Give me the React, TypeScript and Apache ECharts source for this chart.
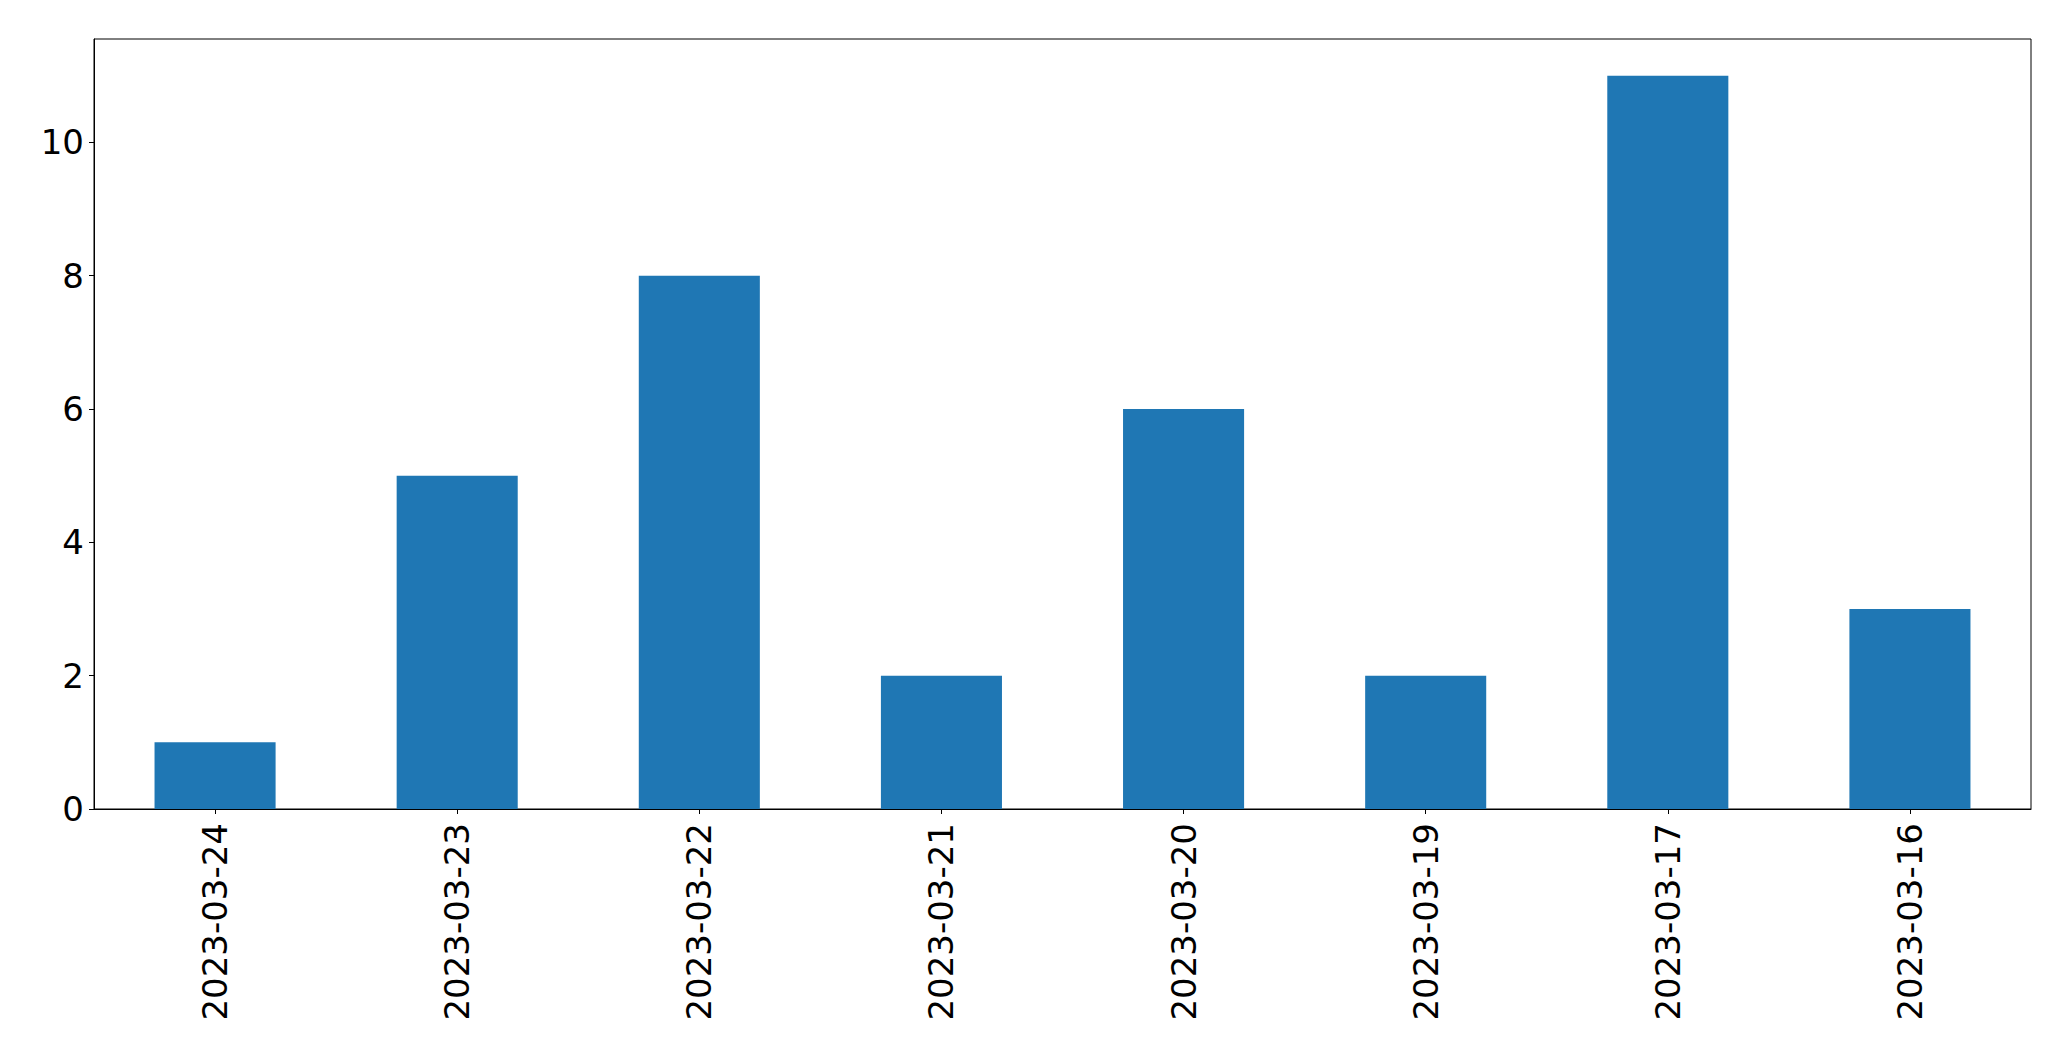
import React, { useEffect, useRef } from "react";
import * as echarts from "echarts";

const categories = [
  "2023-03-24",
  "2023-03-23",
  "2023-03-22",
  "2023-03-21",
  "2023-03-20",
  "2023-03-19",
  "2023-03-17",
  "2023-03-16",
];
const values = [1, 5, 8, 2, 6, 2, 11, 3];
const yTicks = [0, 2, 4, 6, 8, 10];

export default function App() {
  const ref = useRef<HTMLDivElement>(null);
  useEffect(() => {
    document.body.style.margin = "0";
    const chart = echarts.init(ref.current!, null, { renderer: "svg" });
    chart.setOption({
      animation: false,
      backgroundColor: "#fff",
      textStyle: { fontFamily: "DejaVu Sans" },
      grid: {
        left: 94,
        right: 40,
        top: 39,
        bottom: 252,
        show: true,
        borderColor: "#000",
        borderWidth: 1,
        containLabel: false,
      },
      xAxis: {
        type: "category",
        data: categories,
        axisLine: { show: true, lineStyle: { color: "#000", width: 1 } },
        axisTick: {
          show: true,
          alignWithLabel: true,
          length: 5,
          lineStyle: { color: "#000", width: 1 },
        },
        axisLabel: {
          rotate: 90,
          margin: 14,
          fontSize: 34,
          color: "#000",
          fontFamily: "DejaVu Sans",
          interval: 0,
        },
      },
      yAxis: {
        type: "value",
        min: 0,
        max: 11.55,
        interval: 2,
        splitLine: { show: false },
        axisLine: { show: true, lineStyle: { color: "#000", width: 1 } },
        axisTick: {
          show: true,
          length: 5,
          lineStyle: { color: "#000", width: 1 },
          customValues: yTicks,
        },
        axisLabel: {
          margin: 10,
          fontSize: 34,
          color: "#000",
          fontFamily: "DejaVu Sans",
          customValues: yTicks,
        },
      },
      series: [
        {
          type: "bar",
          data: values,
          barWidth: "50%",
          itemStyle: { color: "#1f77b4" },
        },
      ],
    });
    return () => chart.dispose();
  }, []);
  return <div ref={ref} style={{ width: 2071, height: 1061 }} />;
}
